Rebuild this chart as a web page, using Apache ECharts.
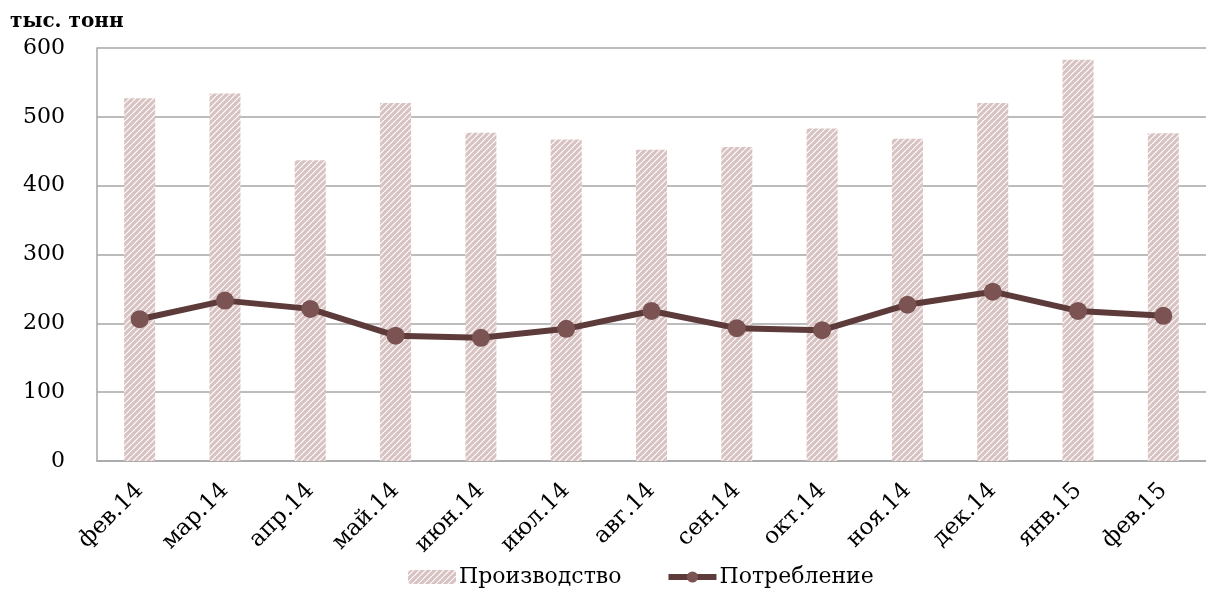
<!DOCTYPE html>
<html><head><meta charset="utf-8">
<script src="https://cdn.jsdelivr.net/npm/echarts@6/dist/echarts.min.js"></script>
<style>html,body{margin:0;padding:0;background:#fff}#c{width:1206px;height:591px}</style>
</head><body><div id="c"></div>
<script>
const categories = ['фев.14','мар.14','апр.14','май.14','июн.14','июл.14','авг.14','сен.14','окт.14','ноя.14','дек.14','янв.15','фев.15'];
const production = [527, 534, 437, 520, 477, 467, 452, 456, 483, 468, 520, 583, 476];
const consumption = [206, 233, 221, 182, 179, 192, 218, 193, 190, 227, 246, 218, 211];
const yTicks = [0, 100, 200, 300, 400, 500, 600];

function makePattern(){
  const c = document.createElement('canvas');
  c.width = 6; c.height = 6;
  const g = c.getContext('2d');
  g.fillStyle = '#d8c2c2';
  g.fillRect(0,0,6,6);
  g.strokeStyle = '#ffffff';
  g.lineWidth = 1.2;
  for (let k=-6;k<=12;k+=6){
    g.beginPath(); g.moveTo(k,6); g.lineTo(k+6,0); g.stroke();
  }
  return c;
}
const pat = makePattern();
const font = '"DejaVu Serif", serif';
const chart = echarts.init(document.getElementById('c'), null, {renderer:'canvas'});
chart.setOption({
  animation:false,
  textStyle:{fontFamily:font},
  grid:{left:97, top:48, width:1116, height:413, containLabel:false},
  graphic:[{type:'text', left:10, top:12, style:{text:'тыс. тонн', font:'bold 20px "DejaVu Serif", serif', fill:'#000'}}],
  xAxis:{type:'category', data:categories,
    axisLine:{lineStyle:{color:'#a6a6a6', width:1.5}},
    axisTick:{show:false},
    axisLabel:{rotate:45, interval:0, fontSize:23, color:'#000', fontFamily:font, margin:26, align:'right', verticalAlign:'middle'}},
  yAxis:{type:'value', min:yTicks[0], max:yTicks[yTicks.length-1], interval:100,
    axisLine:{show:true, lineStyle:{color:'#a6a6a6', width:1.5}},
    axisTick:{show:false},
    splitLine:{lineStyle:{color:'#a6a6a6', width:1.5}},
    axisLabel:{fontSize:22, color:'#000', fontFamily:font, margin:32}},
  legend:{bottom:-2, left:403, itemGap:44, itemWidth:48, itemHeight:14,
    textStyle:{fontSize:22, color:'#000', fontFamily:font, padding:[0,0,0,-2]},
    data:[{name:'Производство'},{name:'Потребление', lineStyle:{width:6, color:'#5e3b3b'}}]},
  series:[
    {name:'Производство', type:'bar', data:production, barWidth:31,
     itemStyle:{color:{image:pat, repeat:'repeat'}}},
    {name:'Потребление', type:'line', data:consumption, symbol:'circle', symbolSize:18,
     lineStyle:{color:'#5e3b3b', width:6}, itemStyle:{color:'#7b5353'}}
  ]
});
</script></body></html>
